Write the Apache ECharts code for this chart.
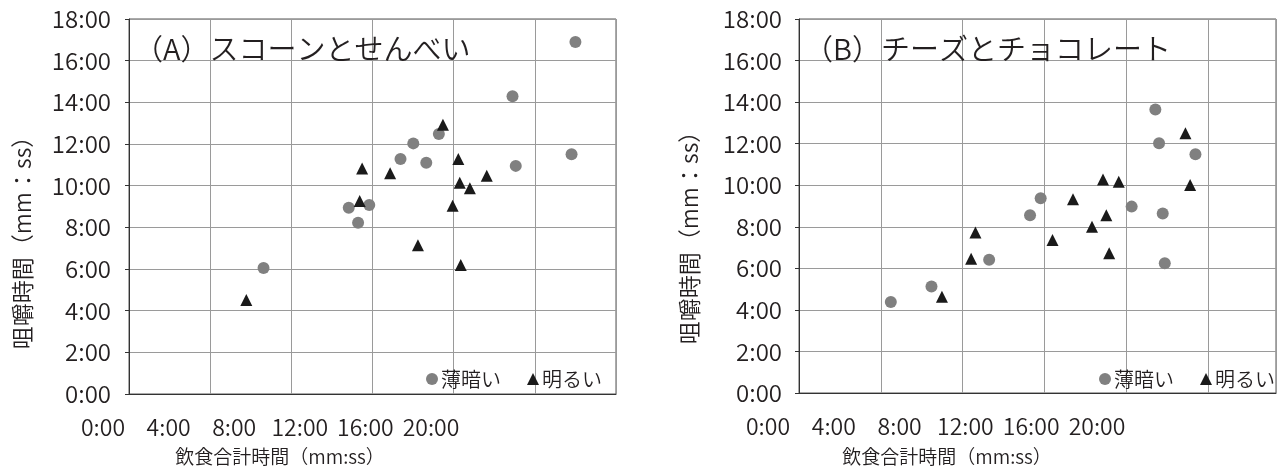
<!DOCTYPE html>
<html>
<head>
<meta charset="utf-8">
<script src="https://cdn.jsdelivr.net/npm/echarts@6/dist/echarts.min.js"></script>
<style>
html,body{margin:0;padding:0;background:#fff;}
#chart{width:1285px;height:472px;}
</style>
</head>
<body>
<div id="chart"></div>
<script>
// values in minutes (mm:ss converted to decimal minutes)
const seriesNames = ['薄暗い', '明るい'];
const panelTitles = ['（A）スコーンとせんべい', '（B）チーズとチョコレート'];
const xAxisTitle = '飲食合計時間（mm:ss）';
const yAxisTitle = '咀嚼時間（mm：ss）';
const xTickLabels = ['0:00', '4:00', '8:00', '12:00', '16:00', '20:00'];
const yTickLabels = ['0:00', '2:00', '4:00', '6:00', '8:00', '10:00', '12:00', '14:00', '16:00', '18:00'];

// (A) scones & rice crackers
const aDimX = [22.0, 18.9, 15.27, 14.01, 13.38, 14.65, 21.81, 19.06, 10.83, 11.84, 11.29, 6.63];
const aDimY = [16.9, 14.29, 12.48, 12.03, 11.28, 11.1, 11.51, 10.95, 8.94, 9.07, 8.22, 6.05];
const aBrightX = [15.47, 16.23, 11.49, 12.87, 17.63, 16.3, 16.8, 11.37, 15.95, 14.24, 16.35, 5.78];
const aBrightY = [12.93, 11.28, 10.83, 10.6, 10.48, 10.14, 9.88, 9.27, 9.04, 7.14, 6.19, 4.51];

// (B) cheese & chocolate
const bDimX = [17.43, 17.61, 19.39, 11.82, 16.27, 11.3, 17.79, 9.3, 17.89, 6.48, 4.49];
const bDimY = [13.65, 12.02, 11.49, 9.37, 8.97, 8.56, 8.64, 6.41, 6.24, 5.13, 4.38];
const bBrightX = [18.9, 14.87, 15.64, 19.13, 13.4, 15.03, 8.63, 14.33, 12.4, 15.17, 8.42, 6.99];
const bBrightY = [12.5, 10.28, 10.17, 10.01, 9.32, 8.56, 7.73, 8.0, 7.36, 6.72, 6.46, 4.63];

const pairs = (xs, ys) => xs.map((x, i) => [x, ys[i]]);
const FONT = '"Noto Sans CJK JP", "Noto Sans", sans-serif';
const TXT = '#231f20';
const GRIDC = '#9a9a9a';
const FW = 350;

const chart = echarts.init(document.getElementById('chart'), null, {renderer: 'canvas'});

function mainX(gi, max) {
  return {
    type: 'value', gridIndex: gi, min: 0, max: max, interval: 4,
    axisLine: {show: true, lineStyle: {color: '#333', width: 1}},
    axisTick: {show: false},
    axisLabel: {show: false},
    splitLine: {show: true, lineStyle: {color: GRIDC, width: 1}}
  };
}
function mainY(gi, margin) {
  return {
    type: 'value', gridIndex: gi, min: 0, max: 18, interval: 2,
    axisLine: {show: true, lineStyle: {color: '#333', width: 1}},
    axisTick: {show: true, length: 4, lineStyle: {color: '#333'}},
    axisLabel: {
      show: true, margin: margin, fontSize: 24, fontWeight: FW, fontFamily: FONT, color: TXT,
      formatter: v => yTickLabels[Math.round(v / 2)] || ''
    },
    splitLine: {show: true, lineStyle: {color: GRIDC, width: 1}}
  };
}
function labelX(gi) {
  return {
    type: 'category', gridIndex: gi, data: xTickLabels, boundaryGap: false,
    axisLine: {show: false}, axisTick: {show: false}, splitLine: {show: false},
    axisLabel: {show: true, margin: 22, fontSize: 23, fontWeight: FW, fontFamily: FONT, color: TXT, interval: 0}
  };
}
function hiddenY(gi) {
  return {type: 'value', gridIndex: gi, show: false, min: 0, max: 1};
}
function legend(left) {
  return {
    left: left, top: 364, orient: 'horizontal',
    itemWidth: 12, itemHeight: 12, itemGap: 26,
    textStyle: {fontSize: 20, fontWeight: FW, fontFamily: FONT, color: TXT, padding: [0, 0, 0, -2]},
    selectedMode: false,
    data: [
      {name: seriesNames[0], icon: 'circle'},
      {name: seriesNames[1], icon: 'triangle'}
    ]
  };
}
function scatter(name, xi, data, sym, color, size) {
  return {
    type: 'scatter', name: name, xAxisIndex: xi, yAxisIndex: xi,
    data: data, symbol: sym, symbolSize: size,
    itemStyle: {color: color, opacity: 1}, z: 5
  };
}

const titleStyle = {fontSize: 29, fontWeight: FW, fontFamily: FONT, color: TXT, lineHeight: 30};
const option = {
  animation: false,
  backgroundColor: '#ffffff',
  title: [
    {text: panelTitles[0], left: 129, top: 29, textStyle: titleStyle},
    {text: panelTitles[1], left: 799, top: 29, textStyle: titleStyle}
  ],
  grid: [
    {left: 129, top: 19, width: 487, height: 375, show: true, borderColor: '#555', borderWidth: 1, containLabel: false},
    {left: 799, top: 19, width: 477, height: 374, show: true, borderColor: '#555', borderWidth: 1, containLabel: false},
    {left: 103, top: 393, width: 328, height: 1, containLabel: false},
    {left: 768, top: 392, width: 329, height: 1, containLabel: false}
  ],
  xAxis: [mainX(0, 24), mainX(1, 23.33), labelX(2), labelX(3)],
  yAxis: [mainY(0, 18), mainY(1, 17), hiddenY(2), hiddenY(3)],
  legend: [legend(421), legend(1094)],
  series: [
    scatter(seriesNames[0], 0, pairs(aDimX, aDimY), 'circle', '#808080', 12),
    scatter(seriesNames[1], 0, pairs(aBrightX, aBrightY), 'triangle', '#1a1a1a', 12),
    scatter(seriesNames[0], 1, pairs(bDimX, bDimY), 'circle', '#808080', 12),
    scatter(seriesNames[1], 1, pairs(bBrightX, bBrightY), 'triangle', '#1a1a1a', 12)
  ],
  graphic: [
    {type: 'text', x: 280, y: 457, style: {text: xAxisTitle, font: FW + ' 19px ' + FONT, fill: TXT, textAlign: 'center', textVerticalAlign: 'middle'}},
    {type: 'text', x: 947, y: 457, style: {text: xAxisTitle, font: FW + ' 19px ' + FONT, fill: TXT, textAlign: 'center', textVerticalAlign: 'middle'}},
    {type: 'text', x: 22, y: 237, rotation: Math.PI / 2, style: {text: yAxisTitle, font: FW + ' 23px ' + FONT, fill: TXT, textAlign: 'center', textVerticalAlign: 'middle'}},
    {type: 'text', x: 689, y: 232, rotation: Math.PI / 2, style: {text: yAxisTitle, font: FW + ' 23px ' + FONT, fill: TXT, textAlign: 'center', textVerticalAlign: 'middle'}}
  ]
};
chart.setOption(option);
</script>
</body>
</html>
